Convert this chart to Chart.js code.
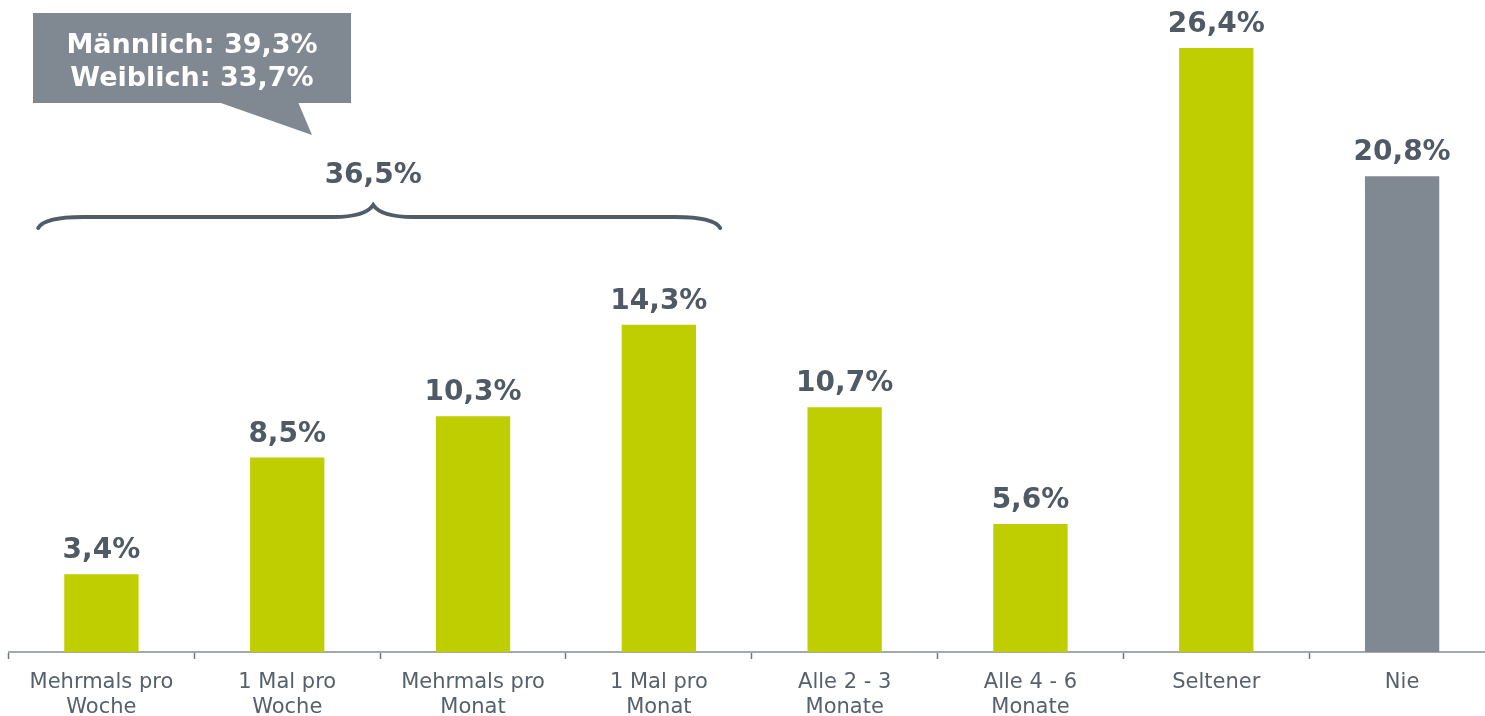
<!DOCTYPE html>
<html><head><meta charset="utf-8">
<script src="https://cdn.jsdelivr.net/npm/chart.js@4/dist/chart.umd.min.js"></script>
<style>
html,body{margin:0;padding:0;background:#fff;overflow:hidden;}
#wrap{position:absolute;left:0;top:0;width:1495px;height:716px;}
</style></head>
<body><div id="wrap"><canvas id="c" width="1495" height="716"></canvas></div>
<script>
const categories = [["Mehrmals pro","Woche"],["1 Mal pro","Woche"],["Mehrmals pro","Monat"],["1 Mal pro","Monat"],["Alle 2 - 3","Monate"],["Alle 4 - 6","Monate"],"Seltener","Nie"];
const values = [3.4, 8.5, 10.3, 14.3, 10.7, 5.6, 26.4, 20.8];
const valueLabels = ["3,4%","8,5%","10,3%","14,3%","10,7%","5,6%","26,4%","20,8%"];
const barColors = ["#bfce00","#bfce00","#bfce00","#bfce00","#bfce00","#bfce00","#bfce00","#808891"];
const groupTotal = "36,5%";
const calloutLines = ["Männlich: 39,3%","Weiblich: 33,7%"];

const FONT = "'DejaVu Sans', Verdana, sans-serif";

const labelPlugin = {
  id: 'labels',
  afterDatasetsDraw(chart) {
    const ctx = chart.ctx;
    const meta = chart.getDatasetMeta(0);
    ctx.save();
    ctx.font = "bold 28px " + FONT;
    ctx.fillStyle = "#4f5a65";
    ctx.textAlign = "center";
    ctx.textBaseline = "alphabetic";
    meta.data.forEach((bar, i) => {
      ctx.fillText(valueLabels[i], bar.x, bar.y - 16);
    });
    ctx.restore();
  },
  afterDraw(chart) {
    const ctx = chart.ctx;
    const xs = chart.scales.x;
    const cw = xs.getPixelForValue(1) - xs.getPixelForValue(0);
    const L = xs.getPixelForValue(0) - 0.34 * cw;
    const R = xs.getPixelForValue(3) + 0.33 * cw;
    const P = (L + R) / 2 - 6;
    const yl = 217, ye = 228, yp = 205;
    ctx.save();
    ctx.strokeStyle = "#505c67";
    ctx.lineWidth = 4;
    ctx.lineCap = "round";
    ctx.beginPath();
    ctx.moveTo(L, ye);
    ctx.quadraticCurveTo(L + 6, yl, L + 45, yl);
    ctx.lineTo(P - 40, yl);
    ctx.quadraticCurveTo(P - 8, yl, P, yp);
    ctx.quadraticCurveTo(P + 8, yl, P + 40, yl);
    ctx.lineTo(R - 45, yl);
    ctx.quadraticCurveTo(R - 6, yl, R, ye);
    ctx.stroke();

    ctx.font = "bold 28px " + FONT;
    ctx.fillStyle = "#4f5a65";
    ctx.textAlign = "center";
    ctx.fillText(groupTotal, P, 183);

    // callout
    ctx.fillStyle = "#808891";
    ctx.fillRect(33, 13, 318, 90);
    ctx.beginPath();
    ctx.moveTo(218, 102);
    ctx.lineTo(298, 102);
    ctx.lineTo(312, 135);
    ctx.closePath();
    ctx.fill();
    ctx.fillStyle = "#ffffff";
    ctx.font = "bold 27px " + FONT;
    ctx.fillText(calloutLines[0], 192, 53);
    ctx.fillText(calloutLines[1], 192, 86);
    ctx.restore();
  }
};

new Chart(document.getElementById('c'), {
  type: 'bar',
  data: {
    labels: categories,
    datasets: [{
      data: values,
      backgroundColor: barColors,
      borderWidth: 0,
      barPercentage: 0.4,
      categoryPercentage: 1.0
    }]
  },
  options: {
    responsive: false,
    animation: false,
    devicePixelRatio: 1,
    layout: { padding: { left: 8.5, right: 0, top: 0, bottom: 0 } },
    plugins: { legend: { display: false }, tooltip: { enabled: false } },
    scales: {
      y: { display: false, min: 0, max: 28.5 },
      x: {
        afterFit(scale) { scale.height = 64; },
        border: { display: true, color: "#a4a9ae", width: 2 },
        grid: { display: true, offset: true, drawOnChartArea: false, drawTicks: true, tickLength: 7, tickColor: "#6f7880", tickWidth: 1.5 },
        ticks: {
          color: "#56616c",
          font: { family: FONT, size: 21, lineHeight: 1.2 },
          padding: 11,
          maxRotation: 0,
          autoSkip: false
        }
      }
    }
  },
  plugins: [labelPlugin]
});
</script>
</body></html>
